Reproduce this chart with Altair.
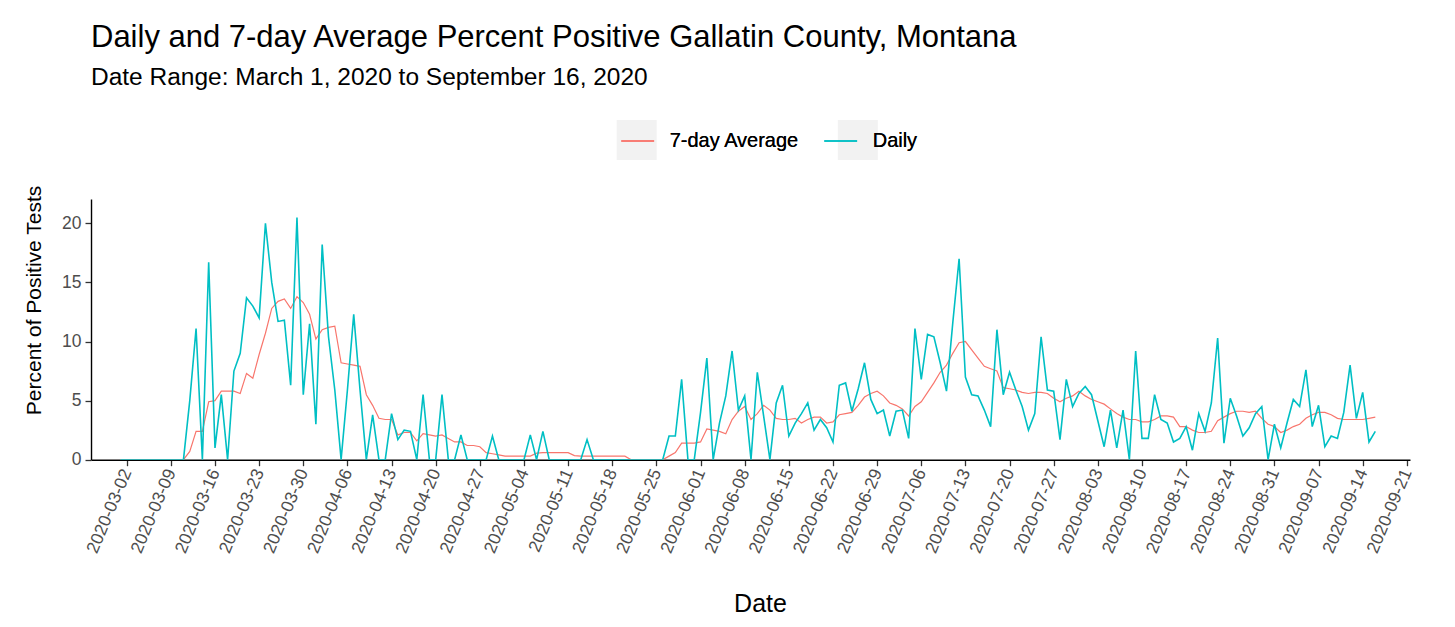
import altair as alt
import pandas as pd

# ---- data ----
start_date = "2020-03-01"
series_names = ["7-day Average", "Daily"]
series_colors = ["#F8766D", "#00BFC4"]

daily = [
    0, 0, 0, 0, 0, 0, 0, 0, 0, 0,
    0, 5.0, 11.1, 0, 16.7, 1.0, 5.5, 0, 7.5, 9.0,
    13.7, 13.0, 12.0, 20.0, 15.0, 11.7, 11.8, 6.3, 20.5, 5.5,
    11.5, 3.0, 18.2, 10.4, 5.9, 0, 5.9, 12.3, 5.9, 0,
    3.8, 0, 0, 3.9, 1.7, 2.5, 2.4, 0, 5.5, 0,
    0, 5.5, 0, 0, 2.1, 0, 0, 0, 0, 2.0,
    0, 0, 0, 0, 0, 2.1, 0, 2.4, 0, 0,
    0, 0, 0, 0, 1.7, 0, 0, 0, 0, 0,
    0, 0, 0, 0, 0, 0, 0, 2.0, 2.0, 6.8,
    0, 0, 4.0, 8.6, 0, 3.1, 5.4, 9.2, 4.2, 5.4,
    0, 7.4, 3.7, 0, 4.8, 6.3, 2.0, 3.1, 3.9, 4.8,
    2.5, 3.4, 2.7, 1.5, 6.3, 6.5, 4.1, 6.0, 8.2, 5.1,
    3.9, 4.2, 2.0, 4.1, 4.2, 1.8, 11.1, 6.8, 10.6, 10.4,
    8.2, 5.8, 11.6, 17.0, 7.0, 5.5, 5.4, 4.2, 2.8, 11.0,
    5.5, 7.4, 5.9, 4.5, 2.5, 3.9, 10.4, 5.9, 5.8, 1.7,
    6.8, 4.5, 5.6, 6.2, 5.5, 3.3, 1.1, 4.2, 1.0, 4.2,
    0, 9.2, 1.8, 1.8, 5.5, 3.4, 3.1, 1.5, 1.8, 2.8,
    0.8, 3.9, 2.4, 4.8, 10.3, 1.4, 5.2, 3.7, 2.0, 2.7,
    3.9, 4.5, 0, 3.0, 1.0, 3.1, 5.1, 4.5, 7.6, 2.8,
    4.6, 1.1, 2.0, 1.8, 4.0, 8.0, 3.5, 5.7, 1.5, 2.4,
]

avg7 = [
    0, 0, 0, 0, 0, 0, 0, 0, 0, 0,
    0, 0.7, 2.4, 2.4, 4.9, 5.0, 5.8, 5.8, 5.8, 5.6,
    7.3, 6.9, 8.9, 10.7, 12.8, 13.4, 13.6, 12.8, 13.8, 13.3,
    12.3, 10.2, 11.0, 11.2, 11.3, 8.2, 8.1, 8.0, 7.9, 5.5,
    4.6, 3.5, 3.4, 3.4, 2.1, 2.3, 2.3, 1.6, 2.2, 2.1,
    2.0, 2.1, 1.8, 1.5, 1.5, 1.2, 1.2, 1.1, 0.6, 0.5,
    0.4, 0.3, 0.3, 0.3, 0.3, 0.3, 0.55, 0.6, 0.6, 0.6,
    0.6, 0.6, 0.35, 0.3, 0.3, 0.3, 0.3, 0.3, 0.3, 0.3,
    0.3, 0, 0, 0, 0, 0, 0, 0.3, 0.6, 1.4,
    1.4, 1.4, 1.5, 2.6, 2.5, 2.4, 2.2, 3.4, 4.1, 4.5,
    3.4, 3.9, 4.6, 4.2, 3.5, 3.4, 3.4, 3.5, 3.1, 3.4,
    3.6, 3.6, 3.1, 3.2, 3.8, 3.9, 4.0, 4.6, 5.3, 5.6,
    5.8, 5.4, 4.8, 4.6, 4.3, 3.7, 4.5, 4.9, 5.7, 6.5,
    7.4, 8.0, 9.0, 9.9, 10.0, 9.3, 8.6, 7.9, 7.7, 7.5,
    6.1, 6.0, 5.9, 5.7, 5.6, 5.7, 5.7, 5.6, 5.2, 4.9,
    5.2, 5.4, 5.8, 5.4, 5.1, 4.9, 4.7, 4.3, 3.9, 3.6,
    3.4, 3.4, 3.2, 3.2, 3.4, 3.7, 3.7, 3.6, 2.8, 2.8,
    2.5, 2.3, 2.3, 2.4, 3.3, 3.6, 3.9, 4.1, 4.1, 4.0,
    4.1, 3.5, 3.0, 2.8, 2.3, 2.5, 2.8, 3.0, 3.5, 3.8,
    4.0, 4.0, 3.8, 3.5, 3.4, 3.4, 3.4, 3.4, 3.5, 3.6,
]

tick_dates = [d.strftime("%Y-%m-%d")
              for d in pd.date_range("2020-03-02", "2020-09-21", freq="7D")]
y_ticks = [0, 5, 10, 15, 20]

# ---- table built from the arrays ----
dates = pd.date_range(start_date, periods=len(daily), freq="D").strftime("%Y-%m-%d")
df = pd.concat([
    pd.DataFrame({"date": dates, "value": avg7, "series": series_names[0]}),
    pd.DataFrame({"date": dates, "value": daily, "series": series_names[1]}),
], ignore_index=True)
keys = pd.DataFrame({"key": series_names})

DAY = 86400000


def ms(s):
    return int(pd.Timestamp(s, tz="UTC").value // 10**6)


x_domain = [ms(start_date) - 4.66 * DAY, ms(start_date) + 204.5 * DAY]
tick_ms = [ms(d) for d in tick_dates]

FONT = "Liberation Sans"
LEGEND_X, LEGEND_Y = 525.7, -79
LEGEND_FONT = 20
KEY_SIZE = 1600           # 40 px key squares
LABEL_OFFSET, COL_PAD = 11, 20
# spacing of the grey key squares so that they sit under the two legend keys
KEY_GAP = 181.1

x_enc = alt.X(
    "date:T",
    scale=alt.Scale(type="utc", domain=x_domain),
    axis=alt.Axis(
        values=tick_ms, format="%Y-%m-%d", labelAngle=-67,
        labelAlign="right", labelBaseline="middle", labelPadding=4,
        labelFontSize=17.5, title="Date", titleFontSize=25,
        titleX=669, titleY=152, titleAlign="center", titleBaseline="alphabetic",
        labelOverlap=False, labelFlush=False, grid=False,
    ),
)
y_enc = alt.Y(
    "value:Q",
    scale=alt.Scale(domain=[0, 22.06], nice=False, zero=True),
    axis=alt.Axis(
        values=y_ticks, title="Percent of Positive Tests", titleFontSize=21,
        titleX=-51, titleY=101, titleBaseline="alphabetic", titleAlign="center",
        labelFontSize=17.5, labelPadding=4, grid=False,
    ),
)
color_enc = alt.Color(
    "series:N",
    scale=alt.Scale(domain=series_names, range=series_colors),
    legend=alt.Legend(
        title=None, orient="none", legendX=LEGEND_X, legendY=LEGEND_Y,
        direction="horizontal", symbolType="M-0.82,0H0.82", symbolSize=KEY_SIZE,
        symbolStrokeWidth=1.4, labelFontSize=LEGEND_FONT, labelOffset=LABEL_OFFSET,
        columnPadding=COL_PAD, labelFont=FONT, labelColor="#000000", zindex=2,
    ),
)

base = alt.Chart(df).encode(x=x_enc, y=y_enc, color=color_enc)
avg_line = base.transform_filter(alt.datum.series == series_names[0]).mark_line(
    strokeWidth=1.2, clip=True)
daily_line = base.transform_filter(alt.datum.series == series_names[1]).mark_line(
    strokeWidth=1.6, clip=True)

# grey key backgrounds of the legend: a legend only (no labels), its marks are filtered away
key_boxes = alt.Chart(keys).transform_filter("false").mark_point(
    size=KEY_SIZE, color="#F2F2F2", filled=True, opacity=1, strokeWidth=0
).encode(
    shape=alt.Shape(
        "key:N",
        scale=alt.Scale(domain=series_names, range=["square", "square"]),
        legend=alt.Legend(
            title=None, orient="none", legendX=LEGEND_X, legendY=LEGEND_Y,
            direction="horizontal", symbolType="square", symbolSize=KEY_SIZE,
            symbolFillColor="#F2F2F2", symbolStrokeWidth=0, symbolOpacity=1,
            labelExpr="''", labelOffset=0, labelFontSize=LEGEND_FONT,
            columnPadding=KEY_GAP, zindex=1,
        ),
    )
)

chart = alt.layer(key_boxes, avg_line, daily_line).resolve_legend(
    color="independent", shape="independent"
).properties(
    width=1319,
    height=260.7,
    title=alt.TitleParams(
        "Daily and 7-day Average Percent Positive Gallatin County, Montana",
        subtitle="Date Range: March 1, 2020 to September 16, 2020",
        anchor="start", frame="group", font=FONT, fontSize=31,
        fontWeight="normal", color="#000000", subtitleFont=FONT,
        subtitleFontSize=24.5, subtitleColor="#000000", subtitlePadding=12,
        offset=29,
    ),
    autosize=alt.AutoSizeParams(type="none"),
    padding={"left": 83, "top": 191, "right": 37, "bottom": 159},
).configure_view(stroke=None).configure_axis(
    domainColor="#000000", domainWidth=1.4, tickColor="#333333",
    tickWidth=1.3, tickSize=6, labelColor="#4D4D4D", labelFont=FONT,
    titleFont=FONT, titleColor="#000000", titleFontWeight="normal", zindex=1,
)

chart.save("out.html", embed_options={"renderer": "svg", "actions": False})
